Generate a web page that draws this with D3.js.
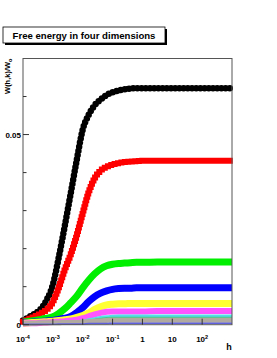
<!DOCTYPE html>
<html>
<head>
<meta charset="utf-8">
<script src="https://cdn.jsdelivr.net/npm/d3@7"></script>
<style>
  body { margin: 0; background: #fff; }
  text { font-family: "Liberation Sans", Arial, sans-serif; }
</style>
</head>
<body>
<div id="chart"></div>
<script>
// log10(h) grid the curves were read at
const logH = [-4, -3.8, -3.6, -3.4, -3.2, -3, -2.8, -2.6, -2.4, -2.2, -2, -1.8, -1.6, -1.4,
              -1.2, -1, -0.8, -0.6, -0.4, -0.2, 0, 0.5, 1, 1.5, 2, 2.5, 3];

const wBlack   = [0.0011, 0.0020, 0.0029, 0.0042, 0.0066, 0.0105, 0.0178, 0.0260, 0.0346, 0.0433, 0.0513, 0.0552, 0.0577, 0.0592,
                  0.0604, 0.0611, 0.0616, 0.0619, 0.0621, 0.0622, 0.0622, 0.0622, 0.0622, 0.0622, 0.0622, 0.0622, 0.0622];
const wRed     = [0.0008, 0.0015, 0.0022, 0.0030, 0.0040, 0.0060, 0.0098, 0.0145, 0.0185, 0.0235, 0.0293, 0.0348, 0.0385, 0.0405,
                  0.0415, 0.0421, 0.0425, 0.0428, 0.0429, 0.0430, 0.0431, 0.0431, 0.0431, 0.0431, 0.0431, 0.0431, 0.0431];
const wGreen   = [0.0007, 0.0009, 0.0011, 0.0014, 0.0017, 0.0021, 0.0030, 0.0042, 0.0058, 0.0075, 0.0097, 0.0117, 0.0134, 0.0147,
                  0.0155, 0.0159, 0.0161, 0.0162, 0.0163, 0.0164, 0.0164, 0.0165, 0.0165, 0.0165, 0.0165, 0.0165, 0.0165];
const wBlue    = [0.0005, 0.0006, 0.0007, 0.0008, 0.0010, 0.0011, 0.0014, 0.0017, 0.0022, 0.0032, 0.0045, 0.0061, 0.0074, 0.0083,
                  0.0089, 0.0093, 0.0095, 0.0096, 0.0096, 0.0097, 0.0097, 0.0097, 0.0097, 0.0097, 0.0097, 0.0097, 0.0097];
const wYellow  = [0.0004, 0.0005, 0.0006, 0.0007, 0.0008, 0.0009, 0.0011, 0.0013, 0.0015, 0.0019, 0.0024, 0.0031, 0.0040, 0.0047,
                  0.0052, 0.0054, 0.0055, 0.0055, 0.0056, 0.0056, 0.0056, 0.0056, 0.0056, 0.0056, 0.0056, 0.0056, 0.0056];
const wMagenta = [0.0003, 0.0004, 0.0004, 0.0005, 0.0006, 0.0007, 0.0008, 0.0009, 0.0011, 0.0013, 0.0017, 0.0022, 0.0027, 0.0031,
                  0.0034, 0.0035, 0.0035, 0.0035, 0.0035, 0.0035, 0.0035, 0.0036, 0.0036, 0.0036, 0.0036, 0.0036, 0.0036];
const wCyan    = [0.0002, 0.0002, 0.0003, 0.0003, 0.0004, 0.0004, 0.0005, 0.0006, 0.0007, 0.0008, 0.0010, 0.0013, 0.0016, 0.0019,
                  0.0021, 0.0022, 0.0023, 0.0023, 0.0023, 0.0023, 0.0023, 0.0023, 0.0023, 0.0023, 0.0023, 0.0023, 0.0023];
const wTeal    = [0.0002, 0.0002, 0.0002, 0.0003, 0.0003, 0.0004, 0.0004, 0.0005, 0.0006, 0.0007, 0.0009, 0.0011, 0.0014, 0.0016,
                  0.0018, 0.0019, 0.0019, 0.0019, 0.0019, 0.0019, 0.0019, 0.0019, 0.0019, 0.0019, 0.0019, 0.0019, 0.0019];
const wGray    = [0.0004, 0.0004, 0.0004, 0.0005, 0.0005, 0.0005, 0.0005, 0.0006, 0.0006, 0.0006, 0.0007, 0.0008, 0.0009, 0.0010,
                  0.0011, 0.0012, 0.0012, 0.0012, 0.0012, 0.0012, 0.0012, 0.0012, 0.0012, 0.0012, 0.0012, 0.0012, 0.0012];
const wViolet  = [0.0001, 0.0001, 0.0001, 0.0001, 0.0001, 0.0001, 0.0002, 0.0002, 0.0002, 0.0002, 0.0002, 0.0003, 0.0003, 0.0003,
                  0.0003, 0.0004, 0.0004, 0.0004, 0.0004, 0.0004, 0.0004, 0.0004, 0.0004, 0.0004, 0.0004, 0.0004, 0.0004];

const xTicks = [1e-4, 1e-3, 1e-2, 1e-1, 1, 10, 100];
const xTickLabels = [["10", "-4"], ["10", "-3"], ["10", "-2"], ["10", "-1"], ["1", ""], ["10", ""], ["10", "2"]];
const yTicks = [0, 0.01, 0.02, 0.03, 0.04, 0.05, 0.06];
const yTickLabels = ["0", "", "", "", "", "0.05", ""];

(function() {
  const width = 277, height = 358;
  const fLeft = 23, fRight = 232, fTop = 58.5, fBottom = 324.7;

  const x = d3.scaleLog().domain([1e-4, 1e3]).range([fLeft, fRight]);
  const y = d3.scaleLinear().domain([0, 0.07]).range([fBottom, fTop]);

  const svg = d3.select('#chart').append('svg')
      .attr('width', width)
      .attr('height', height);

  // title pave with shadow
  svg.append('rect').attr('x', 5).attr('y', 29).attr('width', 162).attr('height', 16).attr('fill', '#000');
  svg.append('rect').attr('x', 3).attr('y', 27).attr('width', 162).attr('height', 16)
      .attr('fill', '#fff').attr('stroke', '#000').attr('stroke-width', 0.8);
  svg.append('text').attr('x', 84).attr('y', 38.8).attr('text-anchor', 'middle')
      .attr('font-size', 9.6).attr('font-weight', 'bold').text('Free energy in four dimensions');

  const series = [
    { w: wBlack,   color: '#000',     sw: 6.5, cap: 'round',  dash: '0,4.2' },
    { w: wRed,     color: '#ff0000',  sw: 6,   cap: 'square', dash: '0,3.5' },
    { w: wGreen,   color: '#00ee00',  sw: 7 },
    { w: wBlue,    color: '#0000ff',  sw: 7 },
    { w: wYellow,  color: '#ffff33',  sw: 7 },
    { w: wMagenta, color: '#ff55ff',  sw: 6 },
    { w: wCyan,    color: '#55dde8',  sw: 3 },
    { w: wTeal,    color: '#44cc88',  sw: 1.5 },
    { w: wGray,    color: '#b0aaa0',  sw: 5 },
    { w: wViolet,  color: '#6060dd',  sw: 1.5 }
  ];

  const line = d3.line()
      .x((d, i) => x(Math.pow(10, logH[i])))
      .y(d => y(d))
      .curve(d3.curveMonotoneX);

  series.forEach(s => {
    svg.append('path')
        .datum(s.w)
        .attr('d', line)
        .attr('fill', 'none')
        .attr('stroke', s.color)
        .attr('stroke-width', s.sw)
        .attr('stroke-linecap', s.cap || 'butt')
        .attr('stroke-dasharray', s.dash || null);
  });

  // frame
  svg.append('rect').attr('x', fLeft).attr('y', fTop)
      .attr('width', fRight - fLeft).attr('height', fBottom - fTop)
      .attr('fill', 'none').attr('stroke', '#555').attr('stroke-width', 1);

  // y axis ticks (inside)
  svg.selectAll('.ytick').data(yTicks).enter().append('line')
      .attr('x1', fLeft).attr('x2', (d, i) => fLeft + (yTickLabels[i] ? 6 : 3.5))
      .attr('y1', d => y(d)).attr('y2', d => y(d))
      .attr('stroke', '#333').attr('stroke-width', 1);
  svg.selectAll('.ylab').data(yTicks).enter().append('text')
      .attr('x', 21).attr('y', d => y(d) + 3)
      .attr('text-anchor', 'end').attr('font-size', 8).attr('font-weight', 'bold')
      .text((d, i) => yTickLabels[i]);

  // x axis ticks (inside)
  svg.selectAll('.xtick').data(xTicks).enter().append('line')
      .attr('x1', d => x(d)).attr('x2', d => x(d))
      .attr('y1', fBottom).attr('y2', fBottom - 6)
      .attr('stroke', '#333').attr('stroke-width', 1);

  const xl = svg.selectAll('.xlab').data(xTicks).enter().append('text')
      .attr('x', d => x(d)).attr('y', 342)
      .attr('text-anchor', 'middle').attr('font-size', 8).attr('font-weight', 'bold');
  xl.append('tspan').text((d, i) => xTickLabels[i][0]);
  xl.append('tspan').attr('dy', -3.5).attr('font-size', 5.5).text((d, i) => xTickLabels[i][1]);

  // axis titles
  svg.append('text').attr('x', 229).attr('y', 350).attr('text-anchor', 'middle')
      .attr('font-size', 9).attr('font-weight', 'bold').text('h');

  const yt = svg.append('text')
      .attr('transform', `translate(9.5, ${fTop}) rotate(-90)`)
      .attr('text-anchor', 'end').attr('font-size', 7.5).attr('font-weight', 'bold');
  yt.append('tspan').text('W(h,k)/W');
  yt.append('tspan').attr('dy', 2).attr('font-size', 5.5).text('o');
})();
</script>
</body>
</html>
